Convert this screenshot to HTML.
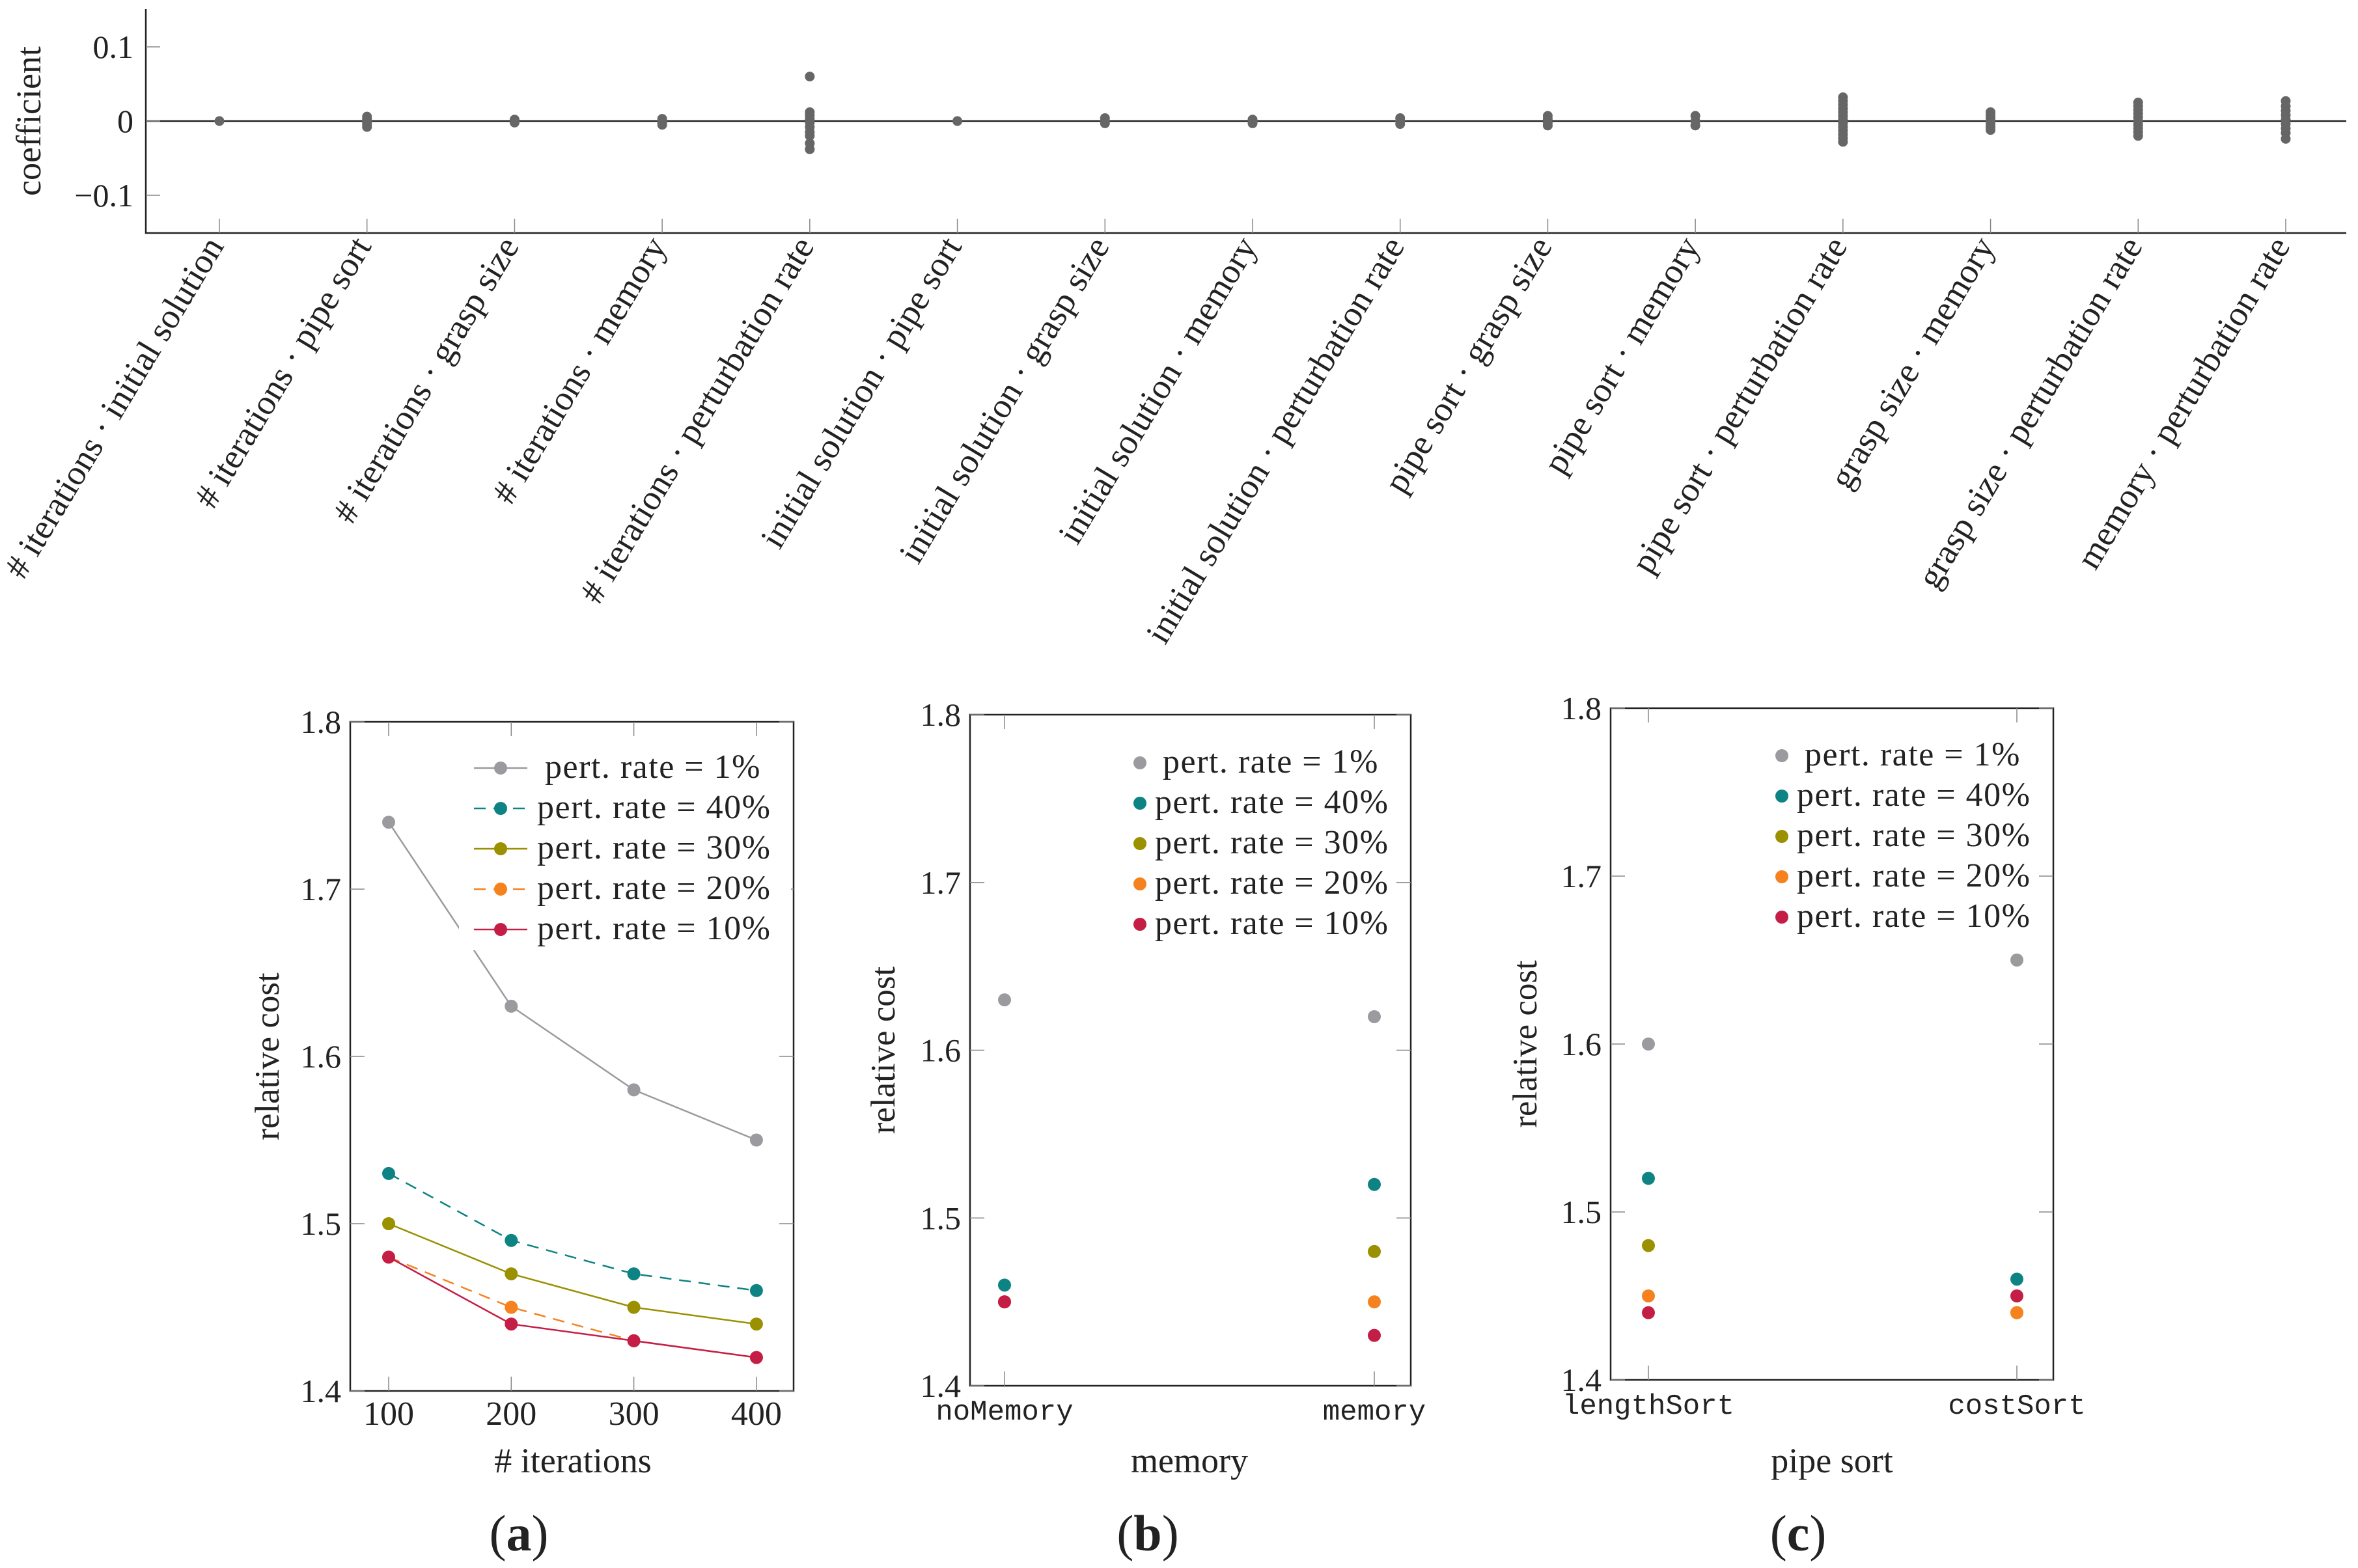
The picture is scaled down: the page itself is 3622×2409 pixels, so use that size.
<!DOCTYPE html>
<html><head><meta charset="utf-8"><style>
html,body{margin:0;padding:0;background:#fff;}
svg{display:block;font-family:"Liberation Serif",serif;}
</style></head><body>
<svg id="fig" width="3622" height="2409" viewBox="0 0 3622 2409" xmlns="http://www.w3.org/2000/svg"></svg>
<script>
// ---- top chart data ----
const topCategories = ["# iterations · initial solution","# iterations · pipe sort","# iterations · grasp size","# iterations · memory","# iterations · perturbation rate","initial solution · pipe sort","initial solution · grasp size","initial solution · memory","initial solution · perturbation rate","pipe sort · grasp size","pipe sort · memory","pipe sort · perturbation rate","grasp size · memory","grasp size · perturbation rate","memory · perturbation rate"];
const topValues = [
 [0],
 [-0.008,-0.005,-0.002,0,0.003,0.006],
 [-0.002,0,0.002],
 [-0.005,-0.002,0,0.003],
 [0.06,0.012,0.008,0.003,-0.002,-0.008,-0.015,-0.02,-0.03,-0.038],
 [0],
 [-0.003,0,0.004],
 [-0.003,0,0.002],
 [-0.004,0,0.004],
 [-0.006,-0.002,0.003,0.007],
 [-0.006,0,0.007],
 [0.032,0.027,0.022,0.017,0.012,0.007,0.002,-0.003,-0.008,-0.013,-0.018,-0.023,-0.028],
 [0.012,0.008,0.004,0,-0.004,-0.008,-0.012],
 [0.025,0.02,0.015,0.01,0.005,0,-0.005,-0.01,-0.015,-0.02],
 [0.027,0.02,0.014,0.008,0.002,-0.004,-0.01,-0.016,-0.024]
];
const topTicks = [0.1,0,-0.1];
const topTickLabels = ["0.1","0","\u22120.1"];
// ---- bottom chart data ----
const seriesNames = ["pert. rate = 1%","pert. rate = 40%","pert. rate = 30%","pert. rate = 20%","pert. rate = 10%"];
const iterCategories = [100,200,300,400];
const iterS1 = [1.74,1.63,1.58,1.55];
const iterS40 = [1.53,1.49,1.47,1.46];
const iterS30 = [1.50,1.47,1.45,1.44];
const iterS20 = [1.48,1.45,1.43,1.42];
const iterS10 = [1.48,1.44,1.43,1.42];
const memCategories = ["noMemory","memory"];
const memS1 = [1.63,1.62];
const memS40 = [1.46,1.52];
const memS30 = [1.45,1.48];
const memS20 = [1.45,1.45];
const memS10 = [1.45,1.43];
const sortCategories = ["lengthSort","costSort"];
const sortS1 = [1.60,1.65];
const sortS40 = [1.52,1.46];
const sortS30 = [1.48,1.44];
const sortS20 = [1.45,1.44];
const sortS10 = [1.44,1.45];
const costTicks = [1.4,1.5,1.6,1.7,1.8];
const costTickLabels = ["1.4","1.5","1.6","1.7","1.8"];

const colors = ["#9b9b9f","#0e8383","#9a9000","#f5821f","#c41e47"];
const dashed = [false,true,false,true,false];
const NS="http://www.w3.org/2000/svg";
const svg=document.getElementById('fig');
function mk(tag,attrs,parent){const e=document.createElementNS(NS,tag);for(const k in attrs)e.setAttribute(k,attrs[k]);(parent||svg).appendChild(e);return e;}
function txt(s,attrs,parent){const e=mk('text',attrs,parent);e.textContent=s;return e;}

// ===== TOP CHART =====
(function(){
 const g=mk('g',{});
 
 
 const L=224,R=3604,T=14,B=358;
 const y=v=>186-(v/0.1)*114;
 const x=i=>337+i*(3511-337)/14;
 const zl=mk('line',{x1:L,x2:R,y1:y(0),y2:y(0),stroke:'#222','stroke-width':2.5},g);
 
 
 const ax=mk('path',{d:`M${L},${T} V${B} H${R}`,fill:'none',stroke:'#222','stroke-width':2.5},g);
 
 
 topTicks.forEach((t,i)=>{
  mk('line',{x1:L,x2:L+22,y1:y(t),y2:y(t),stroke:'#888','stroke-width':1.5},g);
  const lb=txt(topTickLabels[i],{x:205,y:y(t)+17,'text-anchor':'end','font-size':50,fill:'#222'},g);
  
  
 });
 const yt=txt('coefficient',{transform:`translate(62,186) rotate(-90)`,'text-anchor':'middle','font-size':54,fill:'#222'},g);
 
 
 topCategories.forEach((c,i)=>{
  mk('line',{x1:x(i),x2:x(i),y1:B,y2:B-22,stroke:'#888','stroke-width':1.5},g);
  topValues[i].forEach(v=>{
   const d=mk('circle',{cx:x(i),cy:y(v),r:7.5,fill:'#666'},g);
   
   
  });
  const lb=txt(c,{transform:`translate(${x(i)+8},${B+20}) rotate(-59)`,'text-anchor':'end','font-size':54,fill:'#222'},g);
  
  
 });
})();

// ===== BOTTOM CHARTS =====
function costChart(o){
 const g=mk('g',{});
 
 
 const y=v=>o.B-(v-1.4)/0.4*(o.B-o.T);
 const x=i=>o.x0+i*o.dx;
 const box=mk('rect',{x:o.L,y:o.T,width:o.R-o.L,height:o.B-o.T,fill:'none',stroke:'#222','stroke-width':2.5},g);
 
 
 costTicks.forEach((t,i)=>{
  mk('line',{x1:o.L,x2:o.L+22,y1:y(t),y2:y(t),stroke:'#888','stroke-width':1.5},g);
  mk('line',{x1:o.R,x2:o.R-22,y1:y(t),y2:y(t),stroke:'#888','stroke-width':1.5},g);
  const lb=txt(costTickLabels[i],{x:o.L-14,y:y(t)+17,'text-anchor':'end','font-size':50,fill:'#222'},g);
  
  
 });
 o.cats.forEach((c,i)=>{
  mk('line',{x1:x(i),x2:x(i),y1:o.B,y2:o.B-22,stroke:'#888','stroke-width':1.5},g);
  mk('line',{x1:x(i),x2:x(i),y1:o.T,y2:o.T+22,stroke:'#888','stroke-width':1.5},g);
  const lb=txt(String(c),{x:x(i),y:o.B+52,'text-anchor':'middle','font-size':o.mono?44:52,fill:'#222','font-family':o.mono?'"Liberation Mono",monospace':'"Liberation Serif",serif'},g);
  
  
 });
 o.series.forEach((s,k)=>{
  if(o.lines){
   const pts=s.map((v,i)=>`${x(i)},${y(v)}`).join(' ');
   const pl=mk('polyline',{points:pts,fill:'none',stroke:colors[k],'stroke-width':2.5,'stroke-dasharray':dashed[k]?'18 12':'none'},g);
   
   
  }
 });
 o.series.forEach((s,k)=>{
  s.forEach((v,i)=>{
   const c=mk('circle',{cx:x(i),cy:y(v),r:10,fill:colors[k]},g);
   
   
  });
 });
 const lg=mk('g',{},g);
 
 
 if(o.lines) mk('rect',{x:o.lgBox[0],y:o.lgBox[1],width:o.lgBox[2],height:o.lgBox[3],fill:'#fff'},lg);
 seriesNames.forEach((n,k)=>{
  const ly=o.lgY+k*o.lgDy;
  const e=mk('g',{},lg);
  
  
  if(o.lines) mk('line',{x1:o.lgM-41,x2:o.lgM+41,y1:ly,y2:ly,stroke:colors[k],'stroke-width':2.5,'stroke-dasharray':dashed[k]?'18 12':'none'},e);
  mk('circle',{cx:o.lgM,cy:ly,r:10,fill:colors[k]},e);
  txt(n,{x:o.lgT+(k===0?12:0),y:ly+15,'font-size':52,'letter-spacing':1.5,fill:'#222'},e);
 });
 const xt=txt(o.xTitle,{x:o.xtX,y:2262,'text-anchor':'middle','font-size':54,fill:'#222'},g);
 
 
 const yt=txt('relative cost',{transform:`translate(${o.ytX},${(o.T+o.B)/2}) rotate(-90)`,'text-anchor':'middle','font-size':53,fill:'#222'},g);
 
 
 const cap=mk('text',{x:o.capX,y:2382,'text-anchor':'middle','font-size':78,fill:'#222'},g);
 cap.innerHTML=`(<tspan font-weight="bold">${o.cap}</tspan>)`;
 
 
}
costChart({name:'iterations-chart',L:538,R:1219,T:1109,B:2137,x0:597,dx:188.3,cats:iterCategories,series:[iterS1,iterS40,iterS30,iterS20,iterS10],lines:true,lgBox:[705,1140,510,320],lgY:1180,lgDy:62,lgM:769,lgT:825,xTitle:'# iterations',xtX:880,ytX:428,capX:797,cap:'a'});
costChart({name:'memory-chart',L:1490,R:2167,T:1098,B:2129,x0:1543,dx:568,cats:memCategories,series:[memS1,memS40,memS30,memS20,memS10],lines:false,mono:true,lgY:1172,lgDy:62,lgM:1751,lgT:1774,xTitle:'memory',xtX:1827,ytX:1374,capX:1763,cap:'b'});
costChart({name:'pipe-sort-chart',L:2474,R:3154,T:1088,B:2120,x0:2532,dx:566,cats:sortCategories,series:[sortS1,sortS40,sortS30,sortS20,sortS10],lines:false,mono:true,lgY:1161,lgDy:62,lgM:2737,lgT:2760,xTitle:'pipe sort',xtX:2814,ytX:2360,capX:2762,cap:'c'});
</script>
</body></html>
